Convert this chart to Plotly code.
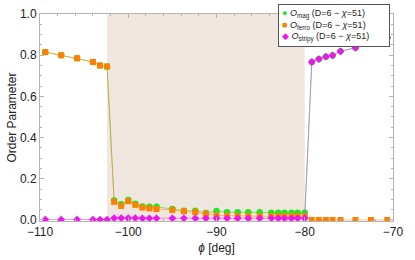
import plotly.graph_objects as go

# ---- data ----
phi = [-109.4, -107.6, -105.8, -104.0, -103.2, -102.4,
       -101.6, -100.8, -100.0, -99.2, -98.4, -97.6, -96.8,
       -95.0, -93.7, -92.4, -91.2, -90.0, -88.8, -87.6, -86.4, -85.1, -83.8,
       -83.0, -82.3, -81.5, -80.8, -80.0,
       -79.2, -78.4, -77.6, -76.85, -75.95, -74.25, -72.5, -70.65]

o_mag = [0.815, 0.800, 0.785, 0.767, 0.750, 0.745,
         0.094, 0.076, 0.097, 0.079, 0.065, 0.064, 0.064,
         0.053, 0.045, 0.045, 0.034, 0.043, 0.038, 0.037, 0.037, 0.037, 0.035,
         0.035, 0.035, 0.035, 0.035, 0.035,
         0.767, 0.781, 0.793, 0.799, 0.819, 0.836, 0.862, 0.885]

o_ferro = [0.815, 0.800, 0.785, 0.767, 0.750, 0.745,
           0.088, 0.068, 0.091, 0.073, 0.060, 0.056, 0.053,
           0.048, 0.042, 0.038, 0.030, 0.022, 0.020, 0.019, 0.019, 0.018, 0.018,
           0.018, 0.018, 0.018, 0.018, 0.018,
           0.0, 0.0, 0.0, 0.0, 0.0, 0.0, 0.0, 0.0]

o_stripy = [0.002, 0.002, 0.002, 0.002, 0.002, 0.002,
            0.009, 0.009, 0.009, 0.009, 0.008, 0.008, 0.008,
            0.008, 0.008, 0.008, 0.008, 0.008, 0.008, 0.008, 0.008, 0.008, 0.008,
            0.008, 0.008, 0.008, 0.008, 0.008,
            0.767, 0.781, 0.793, 0.799, 0.819, 0.836, 0.862, 0.885]

series_names = ["<i>O</i><sub>mag</sub> (D=6 − <i>χ</i>=51)",
                "<i>O</i><sub>ferro</sub> (D=6 − <i>χ</i>=51)",
                "<i>O</i><sub>stripy</sub> (D=6 − <i>χ</i>=51)"]

shade_range = [-102.4, -80.0]
x_ticks = [-110, -100, -90, -80, -70]
y_ticks = [0.0, 0.2, 0.4, 0.6, 0.8, 1.0]

# ---- styles ----
marker_colors = ["#22e622", "#ff8000", "#f014f0"]
line_colors = ["rgba(0,210,0,0.45)", "rgba(255,130,0,0.5)", "rgba(215,70,235,0.55)"]
symbols = ["circle", "square", "diamond"]
sizes = [6.5, 6, 6]
glyphs = ["●", "■", "◆"]

FONT = "Liberation Sans, Arial, sans-serif"
frame_col = "#b4b4b4"

fig = go.Figure()
for ys, name, mc, lc, sym, sz in zip([o_mag, o_ferro, o_stripy], series_names,
                                     marker_colors, line_colors, symbols, sizes):
    fig.add_trace(go.Scatter(
        x=phi, y=ys, mode="lines+markers", name=name, showlegend=False,
        line=dict(color=lc, width=1),
        marker=dict(color=mc, symbol=sym, size=sz, line=dict(width=0)),
    ))

fig.add_shape(type="rect", xref="x", yref="paper",
              x0=shade_range[0], x1=shade_range[1], y0=0, y1=1,
              fillcolor="#efe6e0", line=dict(width=0), layer="below")

legend_lines = [
    f'<span style="color:{mc}">{g}</span> {n}'
    for mc, g, n in zip(marker_colors, glyphs, series_names)
]
fig.add_annotation(
    xref="paper", yref="paper", x=0.9915, y=1.046, xanchor="right", yanchor="top",
    text="<br>".join(legend_lines), showarrow=False, align="left", width=104,
    font=dict(family=FONT, size=9, color="#222"),
    bgcolor="white", bordercolor="#555", borderwidth=1, borderpad=3,
)

axis_common = dict(
    showgrid=False, zeroline=False, showline=True, linecolor=frame_col, linewidth=1,
    mirror="ticks", ticks="inside", ticklen=4, tickcolor=frame_col,
    tickfont=dict(family=FONT, size=12, color="#222"),
)

fig.update_xaxes(range=[-110, -70], tickvals=x_ticks,
                 minor=dict(dtick=2, ticks="inside", ticklen=2, tickcolor=frame_col),
                 title=dict(text="<i>ϕ</i> [deg]", font=dict(family=FONT, size=12, color="#222"),
                            standoff=5),
                 **axis_common)
fig.update_yaxes(range=[-0.005, 1.0], tickvals=y_ticks, tickformat=".1f",
                 minor=dict(dtick=0.05, ticks="inside", ticklen=2, tickcolor=frame_col),
                 title=dict(text="Order Parameter", font=dict(family=FONT, size=12, color="#222"),
                            standoff=0),
                 **axis_common)

fig.update_layout(
    width=415, height=260,
    margin=dict(l=39.5, r=22, t=7, b=35.5),
    plot_bgcolor="white", paper_bgcolor="white",
    font=dict(family=FONT),
)

fig.write_html("out.html", config={"displayModeBar": False},
               post_script="document.body.style.margin='0';")
